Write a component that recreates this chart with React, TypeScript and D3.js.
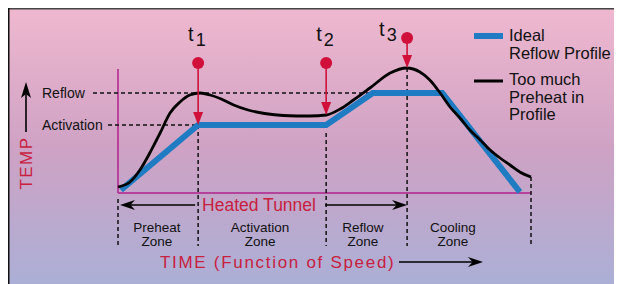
import React, { useEffect } from 'react';
import * as d3 from 'd3';

// time in % of tunnel length, temp in % of reflow temperature
const idealTime = [0.7, 19.4, 50.4, 61.7, 78.5, 97.3];
const idealTemp = [3, 68, 68, 100, 100, 1];

const preheatTime = [0, 2.9, 5.3, 7.7, 10.2, 12.6, 15.0, 17.4, 19.9, 22.3, 25, 28, 31.5, 35.5, 40, 46.5, 50.4, 53.8, 57, 61, 65.9, 69.9, 73.1, 75.5, 78, 80.4, 82.8, 85.2, 87.7, 90.1, 92.5, 94.9, 97.3, 100];
const preheatTemp = [6, 11, 23, 40, 60, 80, 91, 98, 100, 98, 94, 88, 83, 79.5, 77.5, 77, 78, 84, 93, 105, 120, 125, 121, 113, 100, 86, 75, 63, 53, 43, 35, 28, 21, 16];

const levelNames = ['Reflow', 'Activation'];
const levelTemps = [100, 68];
const levelDashEnd = [61.7, 19.4];

const markerNames = ['1', '2', '3'];
const markerTimes = [19.4, 50.4, 70];
const markerDotTemps = [130, 130, 155];
const markerTipTemps = [68, 78, 125];

const boundaryTimes = [0, 19.4, 50.4, 70, 100];
const boundaryTopTemps = [-6, 68, 60, 125, 16];
const zoneNames = ['Preheat', 'Activation', 'Reflow', 'Cooling'];
const zoneLabelTimes = [9.4, 34.4, 59.3, 81.1];

const legendNames = [['Ideal', 'Reflow Profile'], ['Too much', 'Preheat in', 'Profile']];

const W = 614;
const H = 276;
const font = '"Liberation Sans", Arial, sans-serif';
const blue = '#1f7cc2';
const red = '#c8203e';
const dotRed = '#d0103a';
const magenta = '#b0228c';

const x = d3.scaleLinear().domain([0, 100]).range([110, 523]);
const y = d3.scaleLinear().domain([0, 100]).range([185, 85]);

function arrowHead(tipX: number, tipY: number, dir: number) {
  // dir: 1 = right, -1 = left
  const l = 15 * dir;
  return `M${tipX},${tipY} L${tipX - l},${tipY - 5} L${tipX - l * 0.7},${tipY} L${tipX - l},${tipY + 5} Z`;
}

export default function App() {
  useEffect(() => {
    document.body.style.overflow = 'hidden';
  }, []);

  const idealPath = d3.line<number>()
    .x((t) => x(t))
    .y((_, i) => y(idealTemp[i]))(idealTime);
  const preheatPath = d3.line<number>()
    .curve(d3.curveMonotoneX)
    .x((t) => x(t))
    .y((_, i) => y(preheatTemp[i]))(preheatTime);

  const bottomY = 238;
  const tunnelY = 197;
  const timeY = 254;

  return (
    <svg width={W} height={H} style={{ display: 'block', fontFamily: font }}>
      <defs>
        <linearGradient id="bg" x1="0" y1="0" x2="0" y2="1">
          <stop offset="0" stopColor="#efb8cf" />
          <stop offset="0.5" stopColor="#cfa2c4" />
          <stop offset="1" stopColor="#abafd6" />
        </linearGradient>
      </defs>
      <rect x={0} y={0} width={W} height={H} fill="url(#bg)" />
      <line x1={0} y1={0.75} x2={W} y2={0.75} stroke="#444" strokeWidth={1.5} />
      <line x1={0.75} y1={0} x2={0.75} y2={H} stroke="#111" strokeWidth={1.5} />

      {/* axes */}
      <line x1={x(0)} y1={y(0)} x2={x(0)} y2={y(124)} stroke={magenta} strokeWidth={1.5} />
      <line x1={x(0)} y1={y(0)} x2={x(100)} y2={y(0)} stroke={magenta} strokeWidth={1.5} />

      {/* level labels + dashed guides */}
      {levelNames.map((n, i) => (
        <g key={n}>
          <text x={34} y={y(levelTemps[i]) + 5} fontSize={14} fill="#111">{n}</text>
          <line x1={i === 0 ? 85 : 100} y1={y(levelTemps[i])} x2={x(levelDashEnd[i])} y2={y(levelTemps[i])}
            stroke="#111" strokeWidth={1.3} strokeDasharray="4 3" />
        </g>
      ))}

      {/* vertical dashed boundaries */}
      {boundaryTimes.map((t, i) => (
        <line key={i} x1={x(t)} x2={x(t)} y1={y(boundaryTopTemps[i])} y2={bottomY}
          stroke="#111" strokeWidth={1.5} strokeDasharray="4 3" />
      ))}

      {/* profiles */}
      <path d={idealPath || ''} fill="none" stroke={blue} strokeWidth={6} strokeLinejoin="miter" />
      <path d={preheatPath || ''} fill="none" stroke="#000" strokeWidth={2.8} />

      {/* t markers */}
      {markerNames.map((n, i) => {
        const mx = x(markerTimes[i]);
        const dotY = y(markerDotTemps[i]);
        const tipY = y(markerTipTemps[i]);
        return (
          <g key={n}>
            <line x1={mx} x2={mx} y1={dotY} y2={tipY - 10} stroke={dotRed} strokeWidth={1.6} />
            <path d={`M${mx},${tipY} L${mx - 5},${tipY - 13} L${mx + 5},${tipY - 13} Z`} fill={dotRed} />
            <circle cx={mx} cy={dotY} r={6} fill={dotRed} />
            <text x={mx - (i === 2 ? 28 : 10)} y={i === 2 ? dotY - 2 : dotY - 22} fontSize={20} fill="#111">
              t<tspan dx={2} dy={5} fontSize={18}>{n}</tspan>
            </text>
          </g>
        );
      })}

      {/* TEMP axis title */}
      <line x1={18} x2={18} y1={124} y2={86} stroke="#000" strokeWidth={1.6} />
      <path d={`M18,74 L13,90 L18,86 L23,90 Z`} fill="#000" />
      <text transform={`translate(24,${y(30)}) rotate(-90)`} textAnchor="middle" fontSize={17} letterSpacing={1.5} fill={red}>TEMP</text>

      {/* heated tunnel */}
      <line x1={x(19.4) - 3} x2={x(0) + 8} y1={tunnelY} y2={tunnelY} stroke="#000" strokeWidth={1.6} />
      <path d={arrowHead(x(0) + 2, tunnelY, -1)} fill="#000" />
      <text x={x(19.4) + 4} y={tunnelY + 6} fontSize={17.5} fill={red}>Heated Tunnel</text>
      <line x1={x(50.4) - 1} x2={x(70) - 8} y1={tunnelY} y2={tunnelY} stroke="#000" strokeWidth={1.6} />
      <path d={arrowHead(x(70), tunnelY, 1)} fill="#000" />

      {/* zone labels */}
      {zoneNames.map((n, i) => (
        <text key={n} x={x(zoneLabelTimes[i])} textAnchor="middle" fontSize={13.5} fill="#111">
          <tspan x={x(zoneLabelTimes[i])} y={224}>{n}</tspan>
          <tspan x={x(zoneLabelTimes[i])} y={238}>Zone</tspan>
        </text>
      ))}

      {/* time axis title */}
      <text x={152} y={timeY + 6} fontSize={17} letterSpacing={1.7} fill={red}>TIME (Function of Speed)</text>
      <line x1={391} x2={468} y1={timeY} y2={timeY} stroke="#000" strokeWidth={1.6} />
      <path d={arrowHead(475, timeY, 1)} fill="#000" />

      {/* legend */}
      <line x1={466} x2={495} y1={28} y2={28} stroke={blue} strokeWidth={6} />
      <line x1={466} x2={495} y1={73} y2={73} stroke="#000" strokeWidth={3} />
      {legendNames.map((lines, i) => (
        <text key={i} fontSize={16.5} fill="#111">
          {lines.map((l, j) => (
            <tspan key={j} x={501} y={(i === 0 ? 33 : 77) + j * 17.5}>{l}</tspan>
          ))}
        </text>
      ))}
    </svg>
  );
}
